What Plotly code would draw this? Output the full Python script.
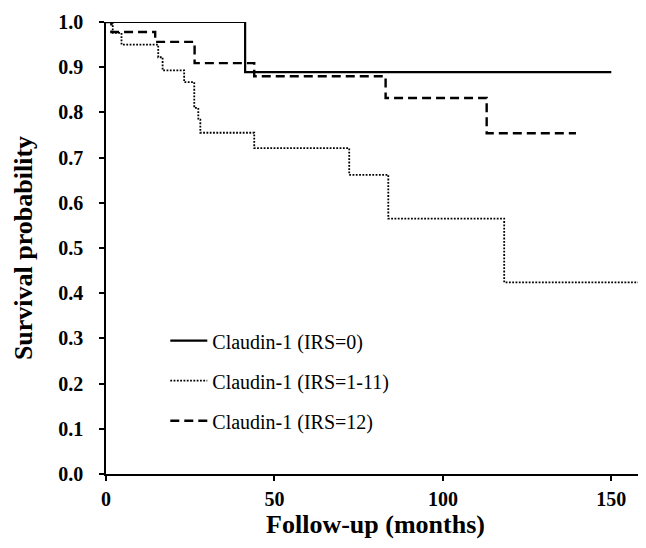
import plotly.graph_objects as go

# Data
months_irs0 = [0, 41.3, 150]
surv_irs0 = [1.0, 0.889, 0.889]

months_irs1_11 = [0, 2.0, 4.6, 15.5, 16.8, 23.2, 26.2, 27.4, 28.0, 44.0, 72.2, 83.8, 118.2, 158]
surv_irs1_11 = [1.0, 0.976, 0.950, 0.922, 0.893, 0.867, 0.810, 0.784, 0.755, 0.721, 0.662, 0.565, 0.424, 0.424]

months_irs12 = [0, 1.6, 14.6, 26.3, 44.0, 83.0, 113.0, 139.5]
surv_irs12 = [1.0, 0.978, 0.956, 0.909, 0.880, 0.832, 0.754, 0.754]

names = ["Claudin-1 (IRS=0)", "Claudin-1 (IRS=1-11)", "Claudin-1 (IRS=12)"]
x_ticks = [0, 50, 100, 150]
y_ticks = [round(i * 0.1, 1) for i in range(11)]

SERIF = "Liberation Serif, Times New Roman, serif"

fig = go.Figure()
fig.add_trace(go.Scatter(x=months_irs0, y=surv_irs0, mode="lines", name=names[0],
                         line=dict(shape="hv", color="black", width=2.2), legendgroup="a"))
fig.add_trace(go.Scatter(x=months_irs1_11, y=surv_irs1_11, mode="lines", name=names[1],
                         line=dict(shape="hv", color="black", width=1.8, dash="1.8px,1.5px"),
                         legendgroup="b"))
fig.add_trace(go.Scatter(x=months_irs12, y=surv_irs12, mode="lines", name=names[2],
                         line=dict(shape="hv", color="black", width=2.4, dash="9px,5px"),
                         legendgroup="c"))

fig.update_layout(
    template="none",
    width=646, height=548,
    margin=dict(l=98, r=9, t=14, b=82),
    plot_bgcolor="white", paper_bgcolor="white",
    font=dict(family=SERIF, color="black"),
    legend=dict(x=0.11, y=0.338, xanchor="left", yanchor="top",
                font=dict(family=SERIF, size=20, color="black"),
                bgcolor="rgba(0,0,0,0)", borderwidth=0, tracegroupgap=11, itemwidth=37),
    xaxis=dict(range=[0, 160], tickvals=x_ticks, showgrid=False, zeroline=False,
               automargin=False,
               showline=True, linecolor="black", linewidth=1.5,
               ticks="outside", ticklen=5, tickwidth=1.5, tickcolor="black",
               tickfont=dict(family=SERIF, size=20, weight="bold", color="black"),
               ticklabelstandoff=1,
               title=dict(text="Follow-up (months)", standoff=6,
                          font=dict(family=SERIF, size=26, weight="bold", color="black"))),
    yaxis=dict(range=[0, 1.0], tickvals=y_ticks, tickformat=".1f", showgrid=False, zeroline=False,
               automargin=False,
               showline=True, linecolor="black", linewidth=1.5,
               ticks="outside", ticklen=5, tickwidth=1.5, tickcolor="black",
               tickfont=dict(family=SERIF, size=20, weight="bold", color="black"),
               ticklabelstandoff=12,
               title=dict(text="Survival probability", standoff=18,
                          font=dict(family=SERIF, size=26, weight="bold", color="black"))),
)

fig.write_html("out.html")
